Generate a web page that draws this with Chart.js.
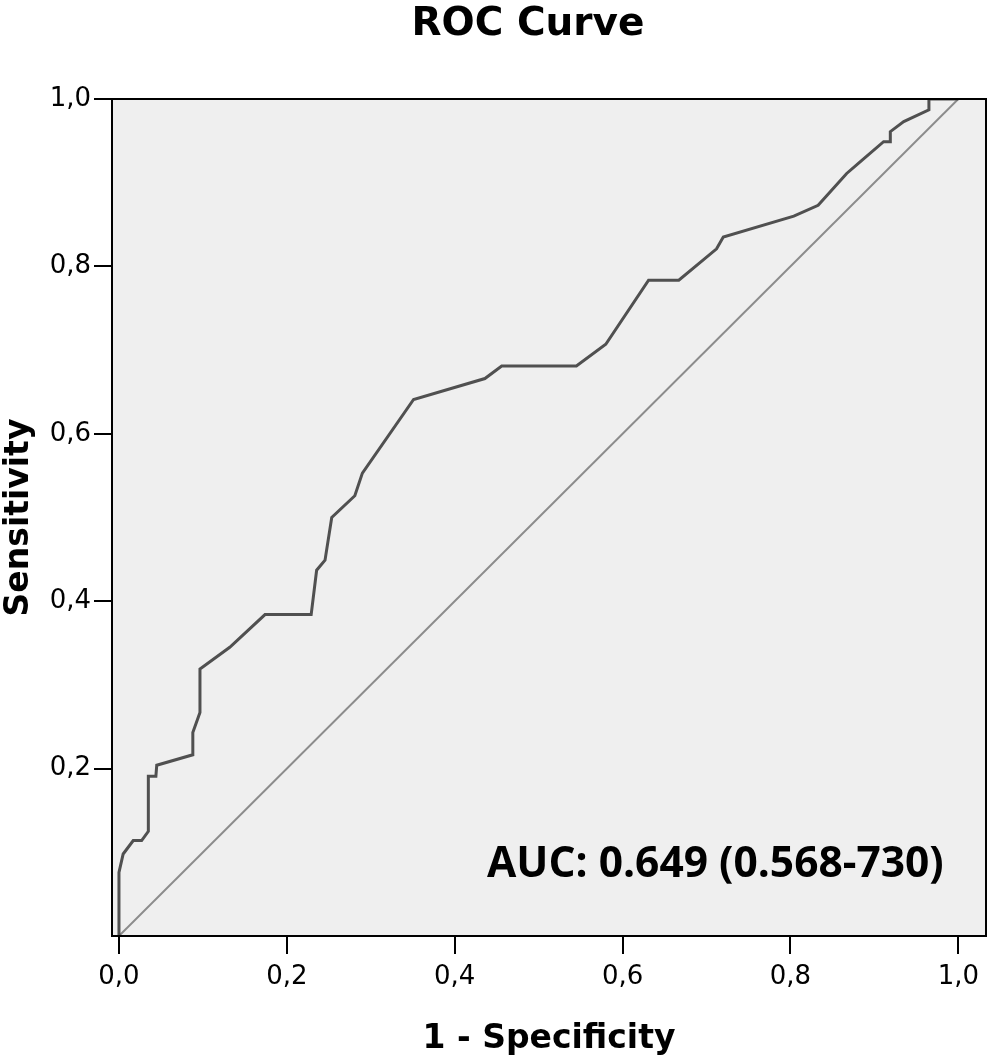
<!DOCTYPE html>
<html>
<head>
<meta charset="utf-8">
<script src="https://cdn.jsdelivr.net/npm/chart.js@4.4.1/dist/chart.umd.min.js"></script>
<style>
  html, body { margin: 0; padding: 0; background: #fff; }
  #wrap { width: 990px; height: 1064px; }
</style>
</head>
<body>
<div id="wrap"><canvas id="roc" width="990" height="1064"></canvas></div>
<script>
var fprValues = [0, 0, 0.005, 0.017, 0.027, 0.035, 0.035, 0.044, 0.045, 0.088,
  0.088, 0.0965, 0.0965, 0.132, 0.174, 0.229, 0.2355, 0.2455, 0.2535, 0.281,
  0.290, 0.351, 0.436, 0.456, 0.545, 0.580, 0.631, 0.667, 0.712, 0.720,
  0.804, 0.833, 0.867, 0.883, 0.911, 0.919, 0.919, 0.935, 0.965, 0.965, 1.0];
var tprValues = [0, 0.076, 0.098, 0.114, 0.114, 0.125, 0.191, 0.191, 0.204, 0.2165,
  0.243, 0.267, 0.319, 0.345, 0.384, 0.384, 0.437, 0.449, 0.50, 0.526,
  0.553, 0.641, 0.666, 0.681, 0.681, 0.707, 0.7835, 0.7835, 0.821, 0.835,
  0.860, 0.873, 0.911, 0.925, 0.949, 0.949, 0.961, 0.973, 0.987, 1.0, 1.0];
var refX = [0, 1];
var refY = [0, 1];
var xTicks = [0, 0.2, 0.4, 0.6, 0.8, 1.0];
var yTicks = [0.2, 0.4, 0.6, 0.8, 1.0];

var chartTitle = "ROC Curve";
var aucLabel = "AUC: 0.649 (0.568-730)";

var toPoints = function (xs, ys) {
  var pts = [];
  for (let i = 0; i < xs.length; i++) {
    pts.push({ x: xs[i], y: ys[i] });
  }
  return pts;
};

var fmt = function (v) {
  return v.toFixed(1).replace(".", ",");
};

// fond gris, cadre noir, titre et texte AUC
var framePlugin = {
  id: "frame",
  beforeDraw: function (chart) {
    var a = chart.chartArea, ctx = chart.ctx;
    ctx.save();
    ctx.fillStyle = "#efefef";
    ctx.fillRect(a.left, a.top, a.right - a.left, a.bottom - a.top);
    ctx.restore();
  },
  afterDraw: function (chart) {
    var a = chart.chartArea, ctx = chart.ctx;
    ctx.save();
    ctx.strokeStyle = "#000";
    ctx.lineWidth = 2;
    ctx.strokeRect(a.left, a.top, a.right - a.left, a.bottom - a.top);
    ctx.fillStyle = "#000";
    ctx.textBaseline = "alphabetic";
    ctx.textAlign = "center";
    ctx.font = "bold 39px 'DejaVu Sans'";
    ctx.fillText(chartTitle, 528, 35);
    ctx.textAlign = "left";
    ctx.font = "bold 42.5px 'Open Sans'";
    ctx.fillText(aucLabel, 487, 877);
    ctx.restore();
  }
};

new Chart(document.getElementById("roc"), {
  type: "scatter",
  data: {
    datasets: [{
      data: toPoints(fprValues, tprValues),
      showLine: true,
      borderColor: "#505050",
      borderWidth: 3,
      pointRadius: 0,
      tension: 0,
      fill: false
    }, {
      data: toPoints(refX, refY),
      showLine: true,
      borderColor: "#8c8c8c",
      borderWidth: 2,
      pointRadius: 0,
      fill: false
    }]
  },
  options: {
    responsive: false,
    animation: false,
    layout: { padding: { top: 99, right: 4, left: 0, bottom: 0 } },
    plugins: {
      legend: { display: false },
      tooltip: { enabled: false },
      title: { display: false }
    },
    scales: {
      x: {
        type: "linear",
        min: -0.0083,
        max: 1.033,
        afterBuildTicks: function (scale) {
          scale.ticks = xTicks.map(function (v) { return { value: v }; });
        },
        afterFit: function (scale) { scale.height = 128; },
        ticks: {
          callback: function (v) { return fmt(v); },
          color: "#000",
          padding: 8,
          maxRotation: 0,
          font: { family: "'DejaVu Sans'", size: 26 }
        },
        grid: { drawOnChartArea: false, drawTicks: true, tickLength: 18, color: "#000", lineWidth: 2 },
        border: { display: false },
        title: {
          display: true,
          text: "1 - Specificity",
          color: "#000",
          padding: { top: 0, bottom: 5 },
          font: { family: "'DejaVu Sans'", size: 33, weight: "bold" }
        }
      },
      y: {
        type: "linear",
        min: 0,
        max: 1,
        afterBuildTicks: function (scale) {
          scale.ticks = yTicks.map(function (v) { return { value: v }; });
        },
        afterFit: function (scale) { scale.width = 112; },
        ticks: {
          callback: function (v) { return fmt(v); },
          color: "#000",
          padding: 3,
          font: { family: "'DejaVu Sans'", size: 26 }
        },
        grid: { drawOnChartArea: false, drawTicks: true, tickLength: 18, color: "#000", lineWidth: 2 },
        border: { display: false },
        title: {
          display: true,
          text: "Sensitivity",
          color: "#000",
          padding: { top: 0, bottom: 0 },
          font: { family: "'DejaVu Sans'", size: 33, weight: "bold" }
        }
      }
    }
  },
  plugins: [framePlugin]
});
</script>
</body>
</html>
